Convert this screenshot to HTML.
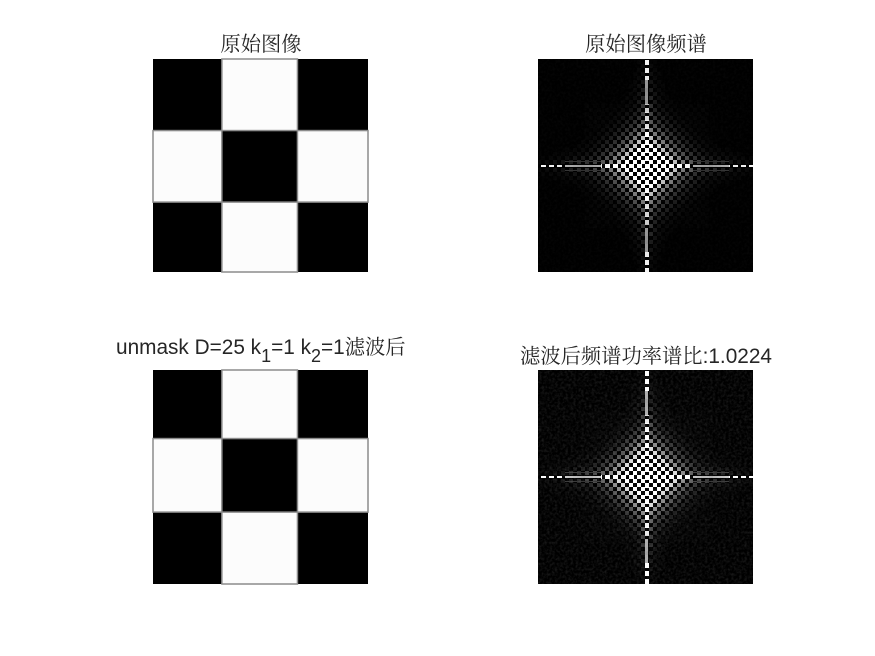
<!DOCTYPE html>
<html>
<head>
<meta charset="utf-8">
<title>unmask filter figure</title>
<style>
html,body{margin:0;padding:0;background:#fff;width:875px;height:656px;overflow:hidden}
svg{display:block}
text{font-family:"Liberation Sans","Noto Serif CJK SC",serif;font-size:20.3px;fill:#262626}
.lat{font-size:20.8px}
.sub{font-size:18px}
</style>
</head>
<body>
<svg id="fig" width="875" height="656" viewBox="0 0 875 656" xmlns="http://www.w3.org/2000/svg">
<defs>
<filter id="speck" x="0" y="0" width="100%" height="100%">
<feTurbulence type="fractalNoise" baseFrequency="0.38" numOctaves="2" seed="4"/>
<feColorMatrix type="matrix" values="0 0 0 0 1  0 0 0 0 1  0 0 0 0 1  1.6 0 0 0 -0.62"/>
</filter>
</defs>
<text x="261" y="51" text-anchor="middle">原始图像</text>
<text x="646" y="51" text-anchor="middle">原始图像频谱</text>
<text x="116" y="354"><tspan class="lat">unmask D=25 k</tspan><tspan class="sub" dy="8">1</tspan><tspan class="lat" dy="-8">=1 k</tspan><tspan class="sub" dy="8">2</tspan><tspan class="lat" dy="-8">=1</tspan><tspan>滤波后</tspan></text>
<text x="646" y="363" text-anchor="middle">滤波后频谱功率谱比<tspan class="lat">:1.0224</tspan></text>
<g id="layer"></g>
</svg>
<script>
// image blocks, in fractions-of-128 image pixels
var imageSize = 128;
var blockValues = [[0,1,0],[1,0,1],[0,1,0]];
var columnEdges = [0,41,86,128];
var rowEdges = [0,43,86,128];
var filteredRowEdges = [0,41,85,128];
// spectrum brightness, by checker-cell distance from centre
var diamondLevels = [255,255,255,255,255,255,255,225,190,150,120,95,75,58,45,35,27,20,15,11,8,6,4,3,0];
var verticalAxisLevels = [255,255,255,255,255,255,255,255,255,235,225,230,215,225,205,190,150,150,145,140,150,150,235,240,240,240,245,245];
var horizontalAxisLevels = [255,255,255,255,255,255,255,255,255,250,245,235,170,165,160,160,155,160,165,170,175,230,235,240,240,245,250,250];
var streakLevels = [0,130,70,40,24,14,8];
var streakFade = [1,1,1,1,1,1,0.95,0.9,0.85,0.8,0.72,0.65,0.58,0.5,0.44,0.38,0.33,0.28,0.24,0.2,0.17,0.14,0.12,0.1,0.08,0.06,0.05,0.04];
var spectrumGains = [1, 1.15];
var noiseOpacity = [0.03, 0.13];

var NS = 'http://www.w3.org/2000/svg';
var layer = document.getElementById('layer');
var panels = [
  {x:153,y:59,w:215,h:213},
  {x:538,y:59,w:215,h:213,cx:646.5,cy:166},
  {x:153,y:370,w:215,h:214},
  {x:538,y:370,w:215,h:214,cx:646.5,cy:477}
];
var cellSize = 4;
function sx(p,v){return p.x+v/imageSize*p.w;}
function sy(p,v){return p.y+v/imageSize*p.h;}
function grayOf(v){var g=Math.max(0,Math.min(255,Math.round(v)));return 'rgb('+g+','+g+','+g+')';}

function drawImagePanel(p,name,edgesY){
  var g=document.createElementNS(NS,'g');
  
  
  var bg=document.createElementNS(NS,'rect');
  
  
  bg.setAttribute('x',p.x);bg.setAttribute('y',p.y);
  bg.setAttribute('width',p.w);bg.setAttribute('height',p.h);
  bg.setAttribute('fill','#000');
  g.appendChild(bg);
  blockValues.forEach(function(row,r){
    row.forEach(function(val,c){
      if(!val)return;
      var x0=sx(p,columnEdges[c]),x1=sx(p,columnEdges[c+1]);
      var y0=sy(p,edgesY[r]),y1=sy(p,edgesY[r+1]);
      var rc=document.createElementNS(NS,'rect');
      
      
      rc.setAttribute('x',x0);rc.setAttribute('y',y0);
      rc.setAttribute('width',x1-x0);rc.setAttribute('height',y1-y0);
      rc.setAttribute('fill','#fcfcfc');
      rc.setAttribute('stroke','#8c8c8c');
      rc.setAttribute('stroke-width','1.5');
      g.appendChild(rc);
    });
  });
  layer.appendChild(g);
}

function addCell(g,p,x,y,w,h,level){
  var x0=Math.max(p.x,x),y0=Math.max(p.y,y);
  var x1=Math.min(p.x+p.w,x+w),y1=Math.min(p.y+p.h,y+h);
  if(x1<=x0||y1<=y0||level<3)return;
  var cell=document.createElementNS(NS,'rect');
  
  
  cell.setAttribute('x',x0);cell.setAttribute('y',y0);
  cell.setAttribute('width',x1-x0);cell.setAttribute('height',y1-y0);
  cell.setAttribute('fill',grayOf(level));
  g.appendChild(cell);
}
function at(arr,k){return arr[Math.min(k,arr.length-1)];}

function drawSpectrumPanel(p,name,gain,noise){
  var g=document.createElementNS(NS,'g');
  
  
  g.setAttribute('shape-rendering','crispEdges');
  var bg=document.createElementNS(NS,'rect');
  
  
  bg.setAttribute('x',p.x);bg.setAttribute('y',p.y);
  bg.setAttribute('width',p.w);bg.setAttribute('height',p.h);
  bg.setAttribute('fill','#000');
  g.appendChild(bg);
  var i,j;
  // checker field: diamond envelope plus streaks beside the axes
  for(j=-28;j<=28;j++){
    for(i=-28;i<=28;i++){
      if((i+j)%2!==0)continue;
      if(i===0||j===0)continue;
      var ai=Math.abs(i),aj=Math.abs(j);
      var d=at(diamondLevels,ai+aj);
      var s=at(streakLevels,Math.min(ai,aj))*at(streakFade,Math.max(ai,aj));
      var lvl=Math.max(d,s)*gain;
      addCell(g,p,Math.round(p.cx-cellSize/2+i*cellSize),Math.round(p.cy-cellSize/2+j*cellSize),cellSize,cellSize,lvl);
    }
  }
  // vertical axis band
  for(j=-27;j<=27;j++){
    var aj2=Math.abs(j);
    var v=at(verticalAxisLevels,aj2)*gain;
    var isLine=aj2>=16&&aj2<=21;
    var yy=Math.round(p.cy-cellSize/2+j*cellSize);
    if(isLine){
      addCell(g,p,Math.round(p.cx-1.5),yy,3,cellSize,v);
    }else{
      addCell(g,p,Math.round(p.cx-cellSize/2),yy,cellSize,(j%2===0)?cellSize:1,v);
    }
  }
  // horizontal axis row
  for(i=-27;i<=27;i++){
    var ai2=Math.abs(i);
    var hv=at(horizontalAxisLevels,ai2)*gain;
    var xx=Math.round(p.cx-cellSize/2+i*cellSize);
    if(ai2<=11){
      addCell(g,p,xx,Math.round(p.cy-cellSize/2),(i%2===0)?cellSize:1,cellSize,hv);
    }else if(ai2<=20){
      addCell(g,p,xx,Math.round(p.cy-1),cellSize,2,hv);
      addCell(g,p,xx,Math.round(p.cy-5),cellSize,1,hv*0.3);
      addCell(g,p,xx,Math.round(p.cy+4),cellSize,1,hv*0.3);
    }else{
      addCell(g,p,xx,Math.round(p.cy-1),(i%2===0)?cellSize:1,2,hv);
    }
  }
  var sp=document.createElementNS(NS,'rect');
  
  
  sp.setAttribute('x',p.x);sp.setAttribute('y',p.y);
  sp.setAttribute('width',p.w);sp.setAttribute('height',p.h);
  sp.setAttribute('filter','url(#speck)');
  sp.setAttribute('opacity',noise);
  g.appendChild(sp);
  layer.appendChild(g);
}
drawImagePanel(panels[0],'original-image',rowEdges);
drawSpectrumPanel(panels[1],'original-spectrum',spectrumGains[0],noiseOpacity[0]);
drawImagePanel(panels[2],'filtered-image',filteredRowEdges);
drawSpectrumPanel(panels[3],'filtered-spectrum',spectrumGains[1],noiseOpacity[1]);
</script>
</body>
</html>
